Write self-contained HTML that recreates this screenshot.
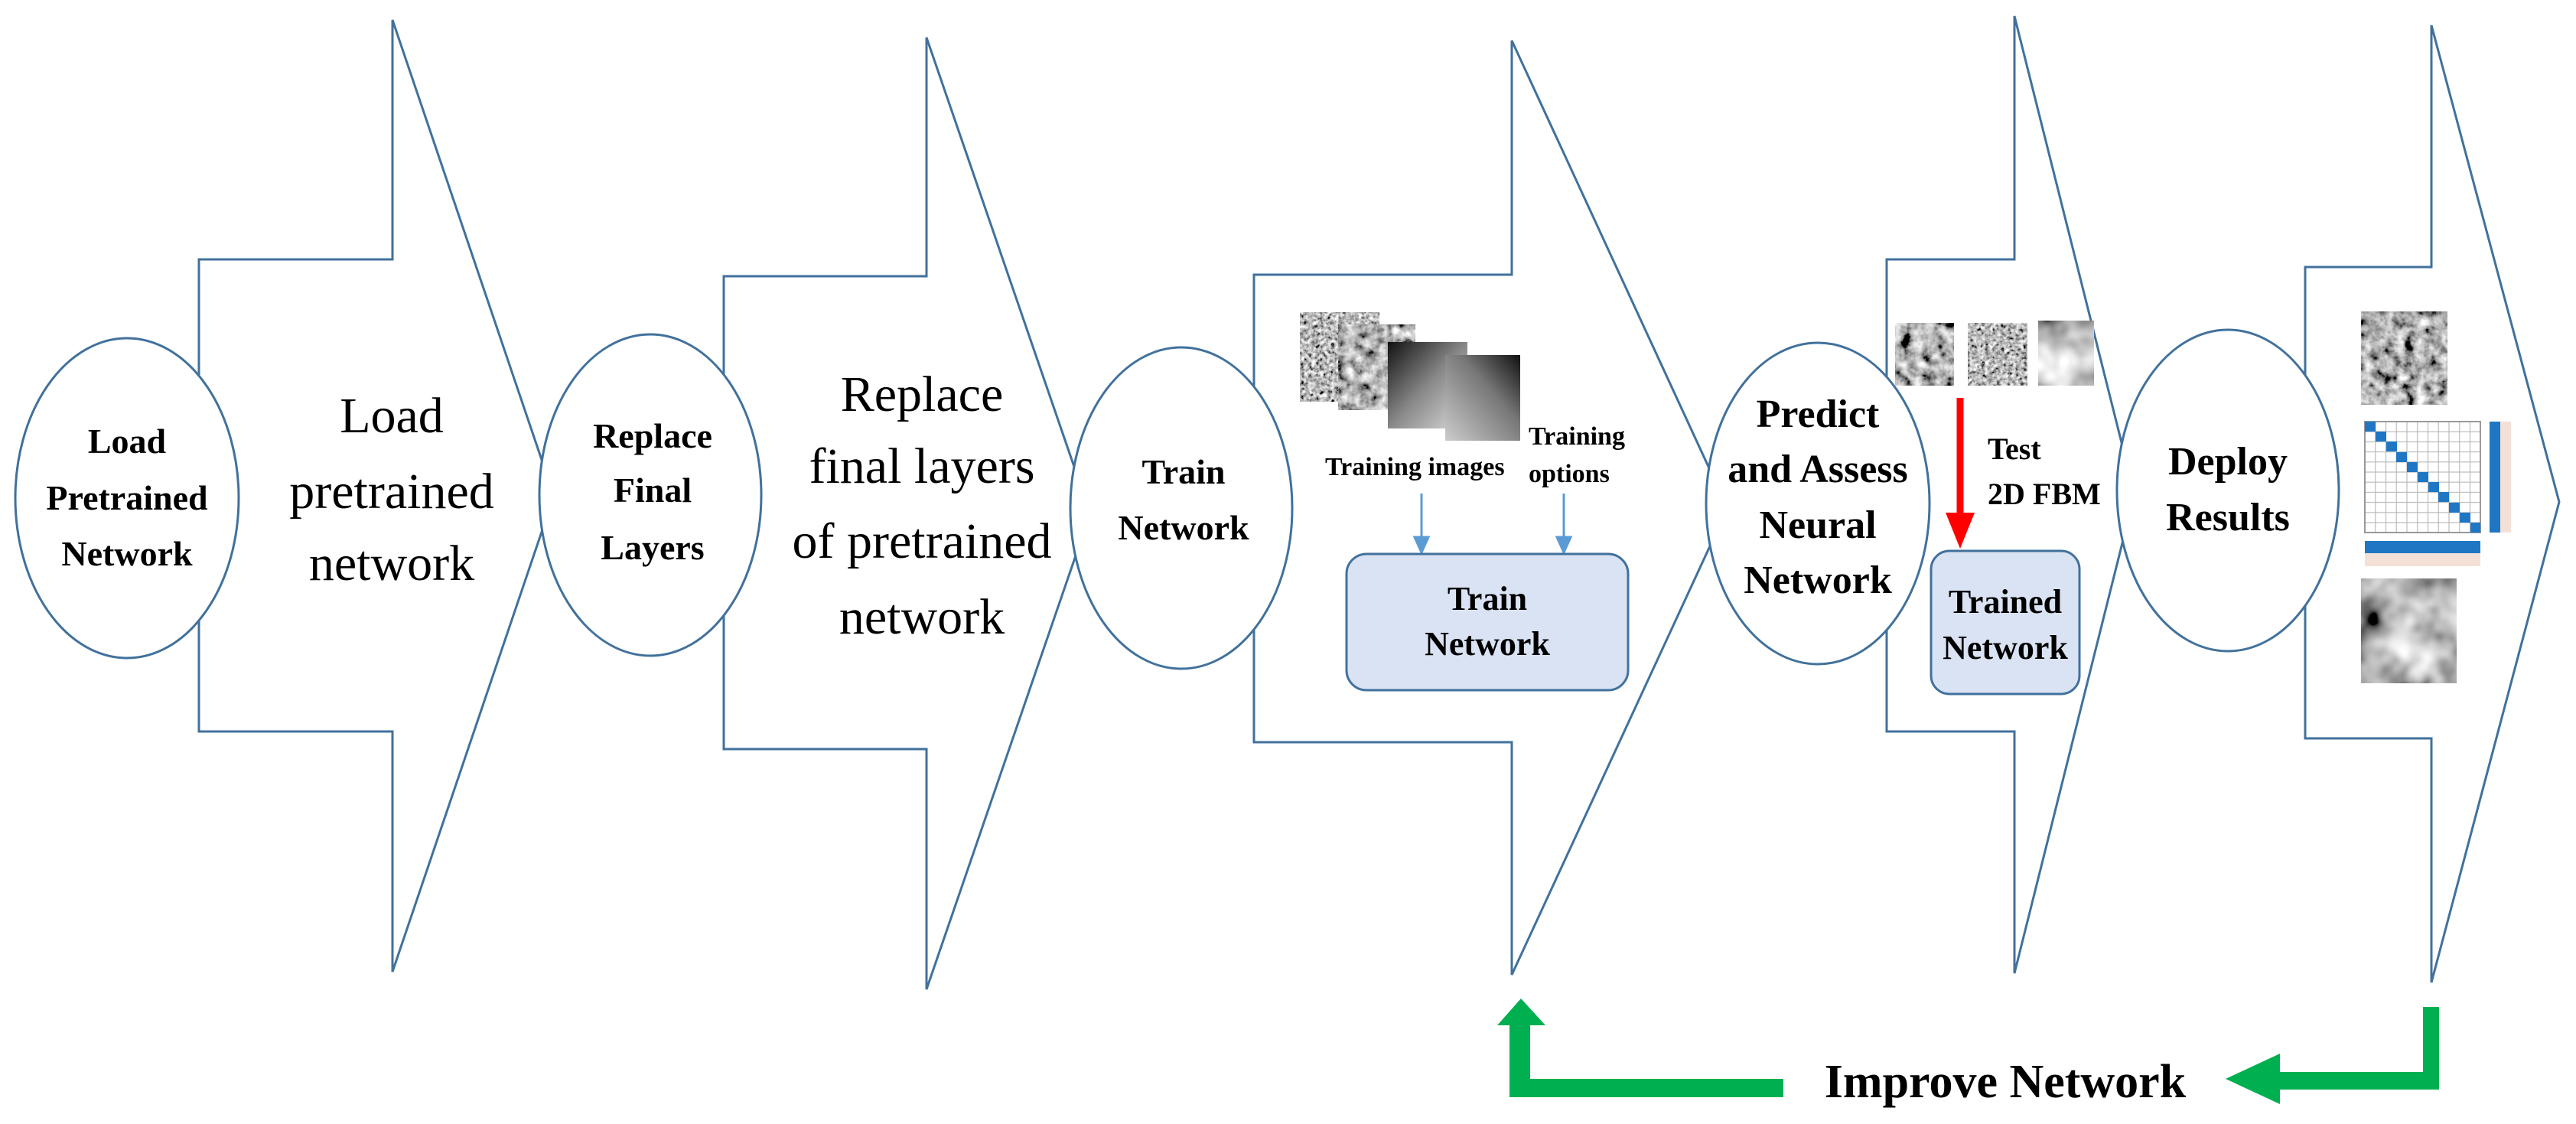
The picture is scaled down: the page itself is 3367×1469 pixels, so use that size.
<!DOCTYPE html>
<html><head><meta charset="utf-8"><style>
html,body{margin:0;padding:0;background:#fff;}
svg{display:block;}
text{font-family:"Liberation Serif",serif;}
</style></head><body>
<svg width="3367" height="1469" viewBox="0 0 3367 1469" xmlns="http://www.w3.org/2000/svg">
<defs>
<filter id="tx1" x="0" y="0" width="100%" height="100%"><feTurbulence type="fractalNoise" baseFrequency="0.07" numOctaves="4" seed="3"/><feColorMatrix type="matrix" values="0.33 0.33 0.33 0 0 0.33 0.33 0.33 0 0 0.33 0.33 0.33 0 0 0 0 0 0 1"/><feComponentTransfer><feFuncR type="linear" slope="3" intercept="-1.05"/><feFuncG type="linear" slope="3" intercept="-1.05"/><feFuncB type="linear" slope="3" intercept="-1.05"/></feComponentTransfer></filter>
<filter id="tx2" x="0" y="0" width="100%" height="100%"><feTurbulence type="fractalNoise" baseFrequency="0.018" numOctaves="3" seed="7"/><feColorMatrix type="matrix" values="0.33 0.33 0.33 0 0 0.33 0.33 0.33 0 0 0.33 0.33 0.33 0 0 0 0 0 0 1"/><feComponentTransfer><feFuncR type="linear" slope="3.2" intercept="-1.1"/><feFuncG type="linear" slope="3.2" intercept="-1.1"/><feFuncB type="linear" slope="3.2" intercept="-1.1"/></feComponentTransfer></filter>
<filter id="tx3" x="0" y="0" width="100%" height="100%"><feTurbulence type="fractalNoise" baseFrequency="0.2" numOctaves="3" seed="11"/><feColorMatrix type="matrix" values="0.33 0.33 0.33 0 0 0.33 0.33 0.33 0 0 0.33 0.33 0.33 0 0 0 0 0 0 1"/><feComponentTransfer><feFuncR type="linear" slope="3" intercept="-1.0"/><feFuncG type="linear" slope="3" intercept="-1.0"/><feFuncB type="linear" slope="3" intercept="-1.0"/></feComponentTransfer></filter>
<linearGradient id="g1" x1="0" y1="0" x2="1" y2="1"><stop offset="0" stop-color="#111"/><stop offset="0.5" stop-color="#888"/><stop offset="1" stop-color="#ddd"/></linearGradient>
<linearGradient id="g2" x1="0" y1="1" x2="1" y2="0"><stop offset="0" stop-color="#ccc"/><stop offset="0.6" stop-color="#777"/><stop offset="1" stop-color="#111"/></linearGradient>
<pattern id="grid" x="3091" y="551" width="13.75" height="13.2" patternUnits="userSpaceOnUse"><rect width="13.75" height="13.2" fill="#fff" stroke="#bbb" stroke-width="1.2"/></pattern>
</defs>

<g fill="#fff" stroke="#41719c" stroke-width="3">
<polygon points="260,339 513,339 513,26 724,648 513,1270 513,956 260,956"/>
<polygon points="946,361 1211,361 1211,49 1425,671 1211,1293 1211,979 946,979"/>
<polygon points="1639,359 1976,359 1976,53 2258,664 1976,1274 1976,970 1639,970"/>
<polygon points="2466,339 2633,339 2633,21 2790,646 2633,1272 2633,956 2466,956"/>
<polygon points="3013,349 3178,349 3178,33 3345,656 3178,1284 3178,965 3013,965"/>
<ellipse cx="166" cy="651" rx="146" ry="209"/>
<ellipse cx="850" cy="647" rx="145" ry="210"/>
<ellipse cx="1544" cy="664" rx="145" ry="210"/>
<ellipse cx="2376" cy="658" rx="146" ry="210"/>
<ellipse cx="2912" cy="641" rx="145" ry="210"/>
</g>

<g font-weight="bold" font-size="46" text-anchor="middle" fill="#000">
<text x="166" y="592">Load</text><text x="166" y="666">Pretrained</text><text x="166" y="739">Network</text>
<text x="853" y="585">Replace</text><text x="853" y="656">Final</text><text x="853" y="731">Layers</text>
<text x="1547" y="632">Train</text><text x="1547" y="705">Network</text>
<text x="2376" y="558" font-size="52">Predict</text><text x="2376" y="630" font-size="52">and Assess</text><text x="2376" y="703" font-size="52">Neural</text><text x="2376" y="775" font-size="52">Network</text>
<text x="2912" y="620" font-size="52">Deploy</text><text x="2912" y="693" font-size="52">Results</text>
</g>
<g font-size="66" text-anchor="middle" fill="#000">
<text x="512" y="565">Load</text><text x="512" y="664">pretrained</text><text x="512" y="758">network</text>
<text x="1205" y="537">Replace</text><text x="1205" y="631">final layers</text><text x="1205" y="729">of pretrained</text><text x="1205" y="828">network</text>
</g>

<rect x="1699" y="408" width="104" height="117" filter="url(#tx3)"/>
<rect x="1749" y="424" width="101" height="112" filter="url(#tx1)"/>
<rect x="1814" y="447" width="104" height="113" fill="url(#g1)"/>
<rect x="1889" y="464" width="98" height="112" fill="url(#g2)"/>
<g font-weight="bold" font-size="34" fill="#000">
<text x="1732" y="621">Training images</text>
<text x="1998" y="581">Training</text><text x="1998" y="630">options</text>
</g>
<g stroke="#5b9bd5" stroke-width="3" fill="#5b9bd5">
<line x1="1858" y1="645" x2="1858" y2="705"/><polygon points="1849,702 1867,702 1858,722"/>
<line x1="2044" y1="645" x2="2044" y2="705"/><polygon points="2035,702 2053,702 2044,722"/>
</g>
<rect x="1760" y="724" width="368" height="178" rx="26" fill="#dae3f3" stroke="#41719c" stroke-width="3"/>
<g font-weight="bold" font-size="44" text-anchor="middle" fill="#000">
<text x="1944" y="797">Train</text><text x="1944" y="856">Network</text>
</g>

<rect x="2477" y="422" width="77" height="82" filter="url(#tx1)"/>
<rect x="2572" y="422" width="78" height="82" filter="url(#tx3)"/>
<rect x="2664" y="419" width="73" height="85" filter="url(#tx2)"/>
<line x1="2562" y1="520" x2="2562" y2="675" stroke="#ff0000" stroke-width="9"/>
<polygon points="2543,670 2581,670 2562,717" fill="#ff0000"/>
<g font-weight="bold" font-size="40" fill="#000">
<text x="2598" y="600">Test</text><text x="2598" y="659">2D FBM</text>
</g>
<rect x="2524" y="720" width="194" height="187" rx="24" fill="#dae3f3" stroke="#41719c" stroke-width="3"/>
<g font-weight="bold" font-size="44" text-anchor="middle" fill="#000">
<text x="2621" y="801">Trained</text><text x="2621" y="861">Network</text>
</g>

<rect x="3086" y="407" width="113" height="122" filter="url(#tx1)"/>
<rect x="3091" y="551" width="151" height="145" fill="url(#grid)" stroke="#999" stroke-width="2"/>
<g fill="#1f77c4">
<rect x="3091" y="551" width="14" height="13"/><rect x="3105" y="564" width="14" height="13"/><rect x="3119" y="577" width="14" height="13"/><rect x="3132" y="591" width="14" height="13"/><rect x="3146" y="604" width="14" height="13"/><rect x="3160" y="617" width="14" height="13"/><rect x="3174" y="630" width="14" height="13"/><rect x="3187" y="643" width="14" height="13"/><rect x="3201" y="657" width="14" height="13"/><rect x="3215" y="670" width="14" height="13"/><rect x="3229" y="683" width="13" height="13"/>
<rect x="3254" y="551" width="14" height="145"/>
<rect x="3091" y="707" width="151" height="16"/>
</g>
<rect x="3268" y="551" width="14" height="145" fill="#f4e0d6"/>
<rect x="3091" y="723" width="151" height="17" fill="#f4e0d6"/>
<rect x="3086" y="756" width="125" height="137" filter="url(#tx2)"/>

<g fill="#00b050">
<polygon points="1973,1340 1957,1340 1988,1305 2020,1340 2000,1340 2000,1410 2331,1410 2331,1434 1973,1434"/>
<polygon points="3167,1316 3188,1316 3188,1424 2980,1424 2980,1443 2909,1410 2980,1377 2980,1401 3167,1401"/>
</g>
<text x="2621" y="1434" font-weight="bold" font-size="62" text-anchor="middle" fill="#000">Improve Network</text>
</svg>
</body></html>
